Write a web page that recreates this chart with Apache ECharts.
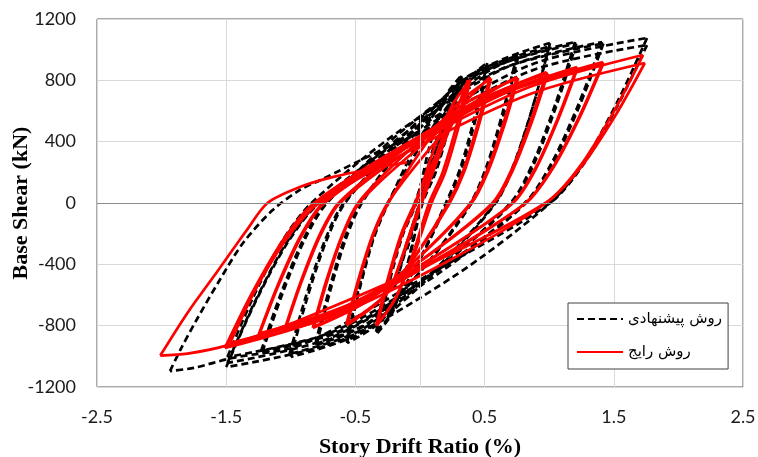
<!DOCTYPE html>
<html><head><meta charset="utf-8">
<script src="https://cdn.jsdelivr.net/npm/echarts@6/dist/echarts.min.js"></script>
<style>html,body{margin:0;padding:0;background:#fff}#c{width:758px;height:457px}</style>
</head><body><div id="c"></div>
<script>
const xTicks = [-2.5, -1.5, -0.5, 0.5, 1.5, 2.5];
const yTicks = [-1200, -800, -400, 0, 400, 800, 1200];
const seriesNames = ['روش پیشنهادی', 'روش رایج'];
const axisTitles = ['Story Drift Ratio (%)', 'Base Shear (kN)'];

// proposed method (black dashed): branches between load reversals
const proposedStart = [0, 0];
const proposedBranches = [
  [[0.1,290]], [[-0.1,-300]], [[0.2,560]], [[-0.2,-560]],
  [[-0.07,-180],[0.08,220],[0.2,540],[0.31,822]],
  [[0.22,510],[0.115,206],[0.01,0],[-0.092,-382],[-0.211,-712],[-0.33,-848]],
  [[-0.24,-526],[-0.135,-212],[-0.03,0],[0.075,374],[0.198,697],[0.32,830]],
  [[0.23,515],[0.125,208],[0.02,0],[-0.088,-378],[-0.214,-706],[-0.34,-840]],
  [[-0.25,-521],[-0.145,-210],[-0.04,0],[0.128,411],[0.324,767],[0.52,913]],
  [[0.424,566],[0.312,228],[0.20,0],[-0.03,-411],[-0.297,-767],[-0.565,-913]],
  [[-0.469,-566],[-0.357,-228],[-0.245,0],[-0.012,405],[0.259,756],[0.53,900]],
  [[0.434,558],[0.322,225],[0.21,0],[-0.024,-405],[-0.297,-756],[-0.57,-900]],
  [[-0.474,-558],[-0.362,-225],[-0.25,0],[0.05,434],[0.40,811],[0.75,965]],
  [[0.642,598],[0.516,241],[0.39,0],[0.033,-417],[-0.384,-778],[-0.80,-926]],
  [[-0.695,-574],[-0.573,-232],[-0.45,0],[-0.087,430],[0.337,802],[0.76,955]],
  [[0.652,592],[0.526,239],[0.40,0],[0.037,-414],[-0.387,-773],[-0.81,-920]],
  [[-0.705,-570],[-0.583,-230],[-0.46,0],[-0.02,469],[0.493,876],[1.006,1043]],
  [[0.88,647],[0.733,261],[0.586,0],[0.11,-452],[-0.445,-843],[-1.0,-1004]],
  [[-0.874,-622],[-0.727,-251],[-0.58,0],[-0.106,459],[0.447,857],[1.0,1020]],
  [[0.874,632],[0.727,255],[0.58,0],[0.103,-443],[-0.454,-827],[-1.01,-985]],
  [[-0.884,-611],[-0.737,-246],[-0.59,0],[-0.053,473],[0.574,882],[1.20,1050]],
  [[1.05,651],[0.875,263],[0.70,0],[0.124,-437],[-0.548,-816],[-1.22,-972]],
  [[-1.07,-603],[-0.895,-243],[-0.72,0],[-0.141,468],[0.535,874],[1.21,1040]],
  [[1.06,645],[0.885,260],[0.71,0],[0.128,-434],[-0.551,-811],[-1.23,-965]],
  [[-1.08,-598],[-0.905,-241],[-0.73,0],[-0.088,473],[0.661,882],[1.41,1050]],
  [[1.23,651],[1.02,263],[0.81,0],[0.12,-452],[-0.685,-843],[-1.49,-1004]],
  [[-1.295,-622],[-1.068,-251],[-0.84,0],[-0.162,468],[0.629,874],[1.42,1040]],
  [[1.24,645],[1.03,260],[0.82,0],[0.127,-469],[-0.682,-876],[-1.49,-1043]],
  [[-1.28,-647],[-1.035,-261],[-0.79,0],[-0.026,484],[0.866,904],[1.757,1076]],
  [[1.532,667],[1.27,269],[1.007,0],[0.255,-482],[-0.623,-899],[-1.50,-1070]],
  [[-1.284,-663],[-1.032,-268],[-0.78,0],[-0.019,464],[0.869,865],[1.757,1030]],
  [[1.532,639],[1.27,258],[1.007,0],[0.124,-440],[-0.905,-921],[-1.45,-1010],[-1.75,-1075],[-1.935,-1096]],
  [[-1.85,-950],[-1.73,-763],[-1.55,-502],[-1.37,-261],[-1.14,-46],[-0.93,85],[-0.77,150],[-0.31,340],[0,457],[0.155,541],[0.255,691],[0.325,822]]
];

// current method (red solid)
const currentStart = [0, 0];
const currentBranches = [
  [[0.12,300]], [[-0.11,-280]], [[0.22,540]], [[-0.2,-500]],
  [[-0.05,-150],[0.1,200],[0.25,530],[0.37,800]],
  [[0.28,496],[0.175,200],[0.07,0],[-0.05,-318],[-0.19,-621],[-0.33,-796]],
  [[-0.24,-494],[-0.135,-199],[-0.03,0],[0.096,322],[0.243,628],[0.39,805]],
  [[0.30,499],[0.195,201],[0.09,0],[-0.039,-320],[-0.19,-624],[-0.34,-800]],
  [[-0.25,-496],[-0.145,-200],[-0.04,0],[0.134,328],[0.337,640],[0.54,820]],
  [[0.444,508],[0.332,205],[0.22,0],[-0.016,-318],[-0.29,-621],[-0.565,-796]],
  [[-0.469,-494],[-0.357,-199],[-0.245,0],[-0.006,325],[0.272,633],[0.55,812]],
  [[0.454,503],[0.342,203],[0.23,0],[-0.01,-316],[-0.29,-616],[-0.57,-790]],
  [[-0.474,-490],[-0.362,-198],[-0.25,0],[0.05,329],[0.40,641],[0.75,822]],
  [[0.642,510],[0.516,206],[0.39,0],[0.024,-326],[-0.403,-636],[-0.83,-815]],
  [[-0.725,-505],[-0.60,-204],[-0.48,0],[-0.108,326],[0.326,636],[0.76,815]],
  [[0.652,505],[0.526,204],[0.40,0],[0.034,-322],[-0.393,-628],[-0.82,-805]],
  [[-0.715,-499],[-0.593,-201],[-0.47,0],[-0.035,342],[0.473,666],[0.98,854]],
  [[0.854,529],[0.707,214],[0.56,0],[0.077,-332],[-0.487,-647],[-1.05,-830]],
  [[-0.924,-515],[-0.777,-208],[-0.63,0],[-0.144,338],[0.423,659],[0.99,845]],
  [[0.864,524],[0.717,211],[0.57,0],[0.087,-328],[-0.477,-640],[-1.04,-820]],
  [[-0.914,-508],[-0.767,-205],[-0.62,0],[-0.069,355],[0.573,692],[1.215,887]],
  [[1.065,550],[0.89,222],[0.715,0],[0.125,-344],[-0.562,-671],[-1.25,-860]],
  [[-1.10,-533],[-0.925,-215],[-0.75,0],[-0.159,352],[0.53,686],[1.22,880]],
  [[1.07,546],[0.895,220],[0.72,0],[0.132,-340],[-0.554,-663],[-1.24,-850]],
  [[-1.09,-527],[-0.915,-213],[-0.74,0],[-0.093,368],[0.661,718],[1.416,920]],
  [[1.236,570],[1.026,230],[0.816,0],[0.13,-365],[-0.67,-712],[-1.47,-913]],
  [[-1.275,-566],[-1.048,-228],[-0.82,0],[-0.148,365],[0.636,711],[1.42,912]],
  [[1.24,565],[1.03,228],[0.82,0],[0.121,-378],[-0.695,-738],[-1.51,-946]],
  [[-1.30,-587],[-1.055,-237],[-0.81,0],[-0.049,386],[0.838,753],[1.726,965]],
  [[1.501,598],[1.239,241],[0.976,0],[0.233,-372],[-0.633,-725],[-1.5,-930]],
  [[-1.284,-577],[-1.032,-233],[-0.78,0],[-0.024,365],[0.858,712],[1.74,913]],
  [[1.509,566],[1.24,228],[0.97,0],[0.076,-398],[-0.967,-776],[-1.5,-930],[-1.8,-982],[-2.01,-995]],
  [[-1.80,-717],[-1.60,-483],[-1.34,-176],[-1.18,0],[-0.93,104],[-0.67,170],[-0.31,235],[-0.1,265]]
];

function branchSeries(name, start, branches, lineStyle, z) {
  const out = [];
  let prev = start;
  branches.forEach(b => {
    out.push({
      type: 'line', name: name, data: [prev].concat(b),
      smooth: 0.3, symbol: 'none', showSymbol: false,
      lineStyle: lineStyle, itemStyle: { color: lineStyle.color },
      z: z, silent: true, animation: false
    });
    prev = b[b.length - 1];
  });
  return out;
}

const blackStyle = { color: '#000000', width: 2.7, type: [7, 4] };
const redStyle = { color: '#ff0000', width: 2.7, type: 'solid' };

const series = [{
  type: 'line', name: 'ref', data: [[0, 0]], symbol: 'none',
  lineStyle: { opacity: 0 }, z: 1, silent: true, animation: false,
  markLine: {
    silent: true, symbol: ['none', 'none'], label: { show: false }, animation: false,
    data: [
      { yAxis: 0, lineStyle: { color: '#8c8c8c', width: 1, type: 'solid' } },
      { xAxis: 0, lineStyle: { color: '#d9d9d9', width: 1, type: 'solid' } }
    ]
  }
}].concat(
  branchSeries(seriesNames[0], proposedStart, proposedBranches, blackStyle, 3),
  branchSeries(seriesNames[1], currentStart, currentBranches, redStyle, 4)
);

const chart = echarts.init(document.getElementById('c'), null, { renderer: 'canvas' });
chart.setOption({
  animation: false,
  backgroundColor: '#ffffff',
  grid: { left: 97, top: 19, width: 646, height: 368, outerBoundsMode: 'none', containLabel: false,
          show: true, borderColor: '#595959', borderWidth: 1, backgroundColor: 'transparent' },
  xAxis: {
    type: 'value', min: xTicks[0], max: xTicks[xTicks.length - 1], interval: 1,
    name: axisTitles[0], nameLocation: 'middle', nameGap: 49, nameMoveOverlap: false,
    nameTextStyle: { fontFamily: 'Liberation Serif', fontWeight: 'bold', fontSize: 22, color: '#000' },
    axisLine: { show: false, onZero: false }, axisTick: { show: false },
    axisLabel: { fontFamily: 'Lato', fontSize: 18, color: '#1a1a1a', margin: 21 },
    splitLine: { show: true, lineStyle: { color: '#d9d9d9', width: 1 } }
  },
  yAxis: {
    type: 'value', min: yTicks[0], max: yTicks[yTicks.length - 1], interval: 400,
    name: axisTitles[1], nameLocation: 'middle', nameGap: 65, nameRotate: 90, nameMoveOverlap: false,
    nameTextStyle: { fontFamily: 'Liberation Serif', fontWeight: 'bold', fontSize: 22, color: '#000' },
    axisLine: { show: false, onZero: false }, axisTick: { show: false },
    axisLabel: { fontFamily: 'Lato', fontSize: 18, color: '#1a1a1a', margin: 21, formatter: v => String(v) },
    splitLine: { show: true, lineStyle: { color: '#d9d9d9', width: 1 } }
  },
  legend: {
    data: seriesNames, orient: 'vertical', left: 568, top: 303,
    padding: [8, 6, 9, 8], itemGap: 17, itemWidth: 46, itemHeight: 14,
    itemStyle: { opacity: 0 },
    borderColor: '#404040', borderWidth: 1, backgroundColor: '#ffffff',
    textStyle: { fontFamily: 'DejaVu Sans', fontSize: 15, color: '#000', lineHeight: 16 },
    selectedMode: false
  },
  series: series
});
</script></body></html>
